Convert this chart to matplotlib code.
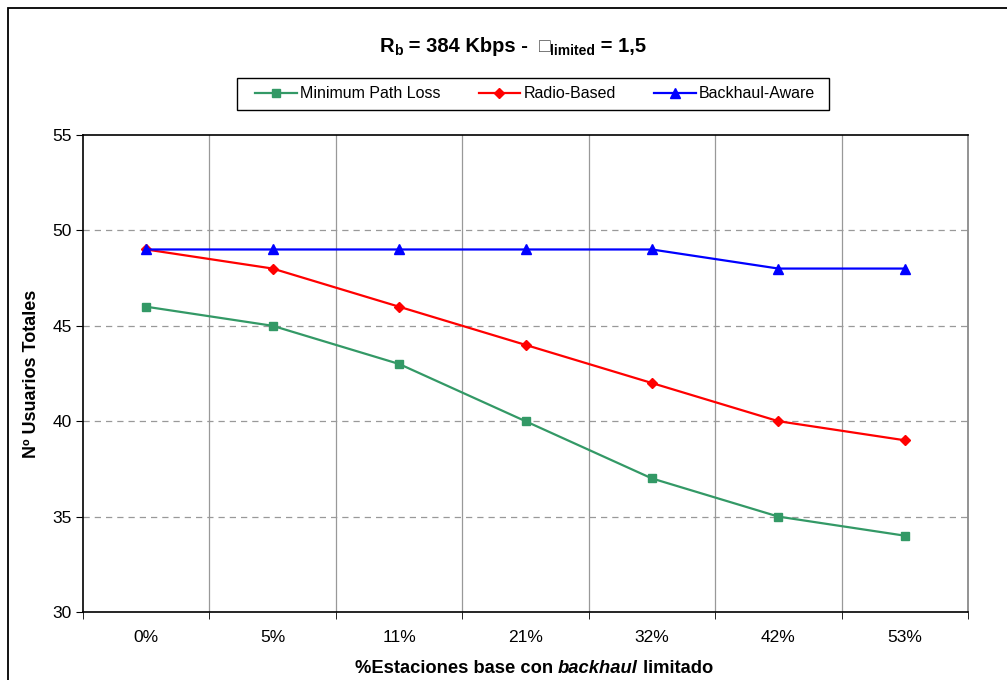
import matplotlib
matplotlib.use("Agg")
import matplotlib.pyplot as plt
from matplotlib.patches import Rectangle

plt.rcParams['font.family'] = ['Liberation Sans', 'DejaVu Sans']

categories = ["0%", "5%", "11%", "21%", "32%", "42%", "53%"]
min_path_loss = [46, 45, 43, 40, 37, 35, 34]
radio_based = [49, 48, 46, 44, 42, 40, 39]
backhaul_aware = [49, 49, 49, 49, 49, 48, 48]
y_ticks = [30, 35, 40, 45, 50, 55]

W, H = 1007, 680
fig = plt.figure(figsize=(W / 100, H / 100), dpi=100)

# outer chart frame
fig.patches.append(Rectangle((8 / W, -0.05), 1.2, 1 - 8 / H + 0.05,
                             transform=fig.transFigure, fill=False,
                             edgecolor='black', linewidth=1.3))

ax = fig.add_axes([83 / W, 1 - 612 / H, (968 - 83) / W, (612 - 135) / H])
x = list(range(len(categories)))

ax.plot(x, min_path_loss, color='#339966', marker='s', markersize=6,
        linewidth=1.6, label='Minimum Path Loss')
ax.plot(x, radio_based, color='#FF0000', marker='D', markersize=5,
        linewidth=1.6, label='Radio-Based')
ax.plot(x, backhaul_aware, color='#0000FF', marker='^', markersize=7,
        linewidth=1.6, label='Backhaul-Aware')

ax.set_xlim(-0.5, len(categories) - 0.5)
ax.set_ylim(y_ticks[0], y_ticks[-1])
ax.set_yticks(y_ticks)
ax.set_xticks(x)
ax.set_xticklabels(categories)
ax.tick_params(axis='x', length=0, labelsize=12.5, pad=13)
ax.tick_params(axis='y', length=5, labelsize=12.5, direction='out', pad=3)

# category boundaries: vertical grid and outward ticks
bounds = [i + 0.5 for i in range(len(categories) - 1)]
for b in bounds:
    ax.axvline(b, color='#999999', linewidth=0.9, zorder=0)
ax.set_xticks(bounds + [-0.5, len(categories) - 0.5], minor=True)
ax.tick_params(axis='x', which='minor', length=5, direction='out')

for yv in y_ticks[1:-1]:
    ax.axhline(yv, color='#999999', linewidth=0.9, linestyle=(0, (5, 4)), zorder=0)

for side in ['left', 'bottom', 'top']:
    ax.spines[side].set_color('black')
    ax.spines[side].set_linewidth(1.2)
ax.spines['right'].set_color('#808080')
ax.spines['right'].set_linewidth(1.2)

ax.set_ylabel('Nº Usuarios Totales', fontsize=13, fontweight='bold', labelpad=9)

# legend entries without frame, boxed by a separate rectangle
leg = fig.legend(loc='center', bbox_to_anchor=(535 / W, 1 - 94 / H), ncol=3,
                 frameon=False, fontsize=11.5, handlelength=2.6,
                 columnspacing=2.4, handletextpad=0.2, borderpad=0.2)
fig.patches.append(Rectangle((237 / W, 1 - 110 / H), (829 - 237) / W, 32 / H,
                             transform=fig.transFigure, fill=False,
                             edgecolor='black', linewidth=1.0))

fig.canvas.draw()
renderer = fig.canvas.get_renderer()


def place_runs(runs, xc, ybase):
    """Lay out a sequence of text runs left to right, centred on xc (pixels)."""
    texts = []
    for s, props, dy in runs:
        t = fig.text(0, 0, s, va='baseline', ha='left', **props)
        texts.append((t, dy))
    widths = [t.get_window_extent(renderer).width for t, _ in texts]
    xpos = xc - sum(widths) / 2
    for (t, dy), w in zip(texts, widths):
        t.set_position((xpos / W, 1 - (ybase + dy) / H))
        xpos += w


bold_big = dict(fontsize=14.5, fontweight='bold')
bold_sub = dict(fontsize=10, fontweight='bold')
place_runs([
    ('R', bold_big, 0),
    ('b', bold_sub, 3),
    (' = 384 Kbps -  ', bold_big, 0),
    ('□', dict(fontsize=14, color='#555555'), 0),
    ('limited', bold_sub, 3),
    (' = 1,5', bold_big, 0),
], 513, 52)

lab = dict(fontsize=13.2, fontweight='bold')
place_runs([
    ('%Estaciones base con ', lab, 0),
    ('backhaul', dict(fontsize=13.2, fontweight='bold', style='italic'), 0),
    (' limitado', lab, 0),
], 534, 673)

fig.savefig('out.png', dpi=100)
